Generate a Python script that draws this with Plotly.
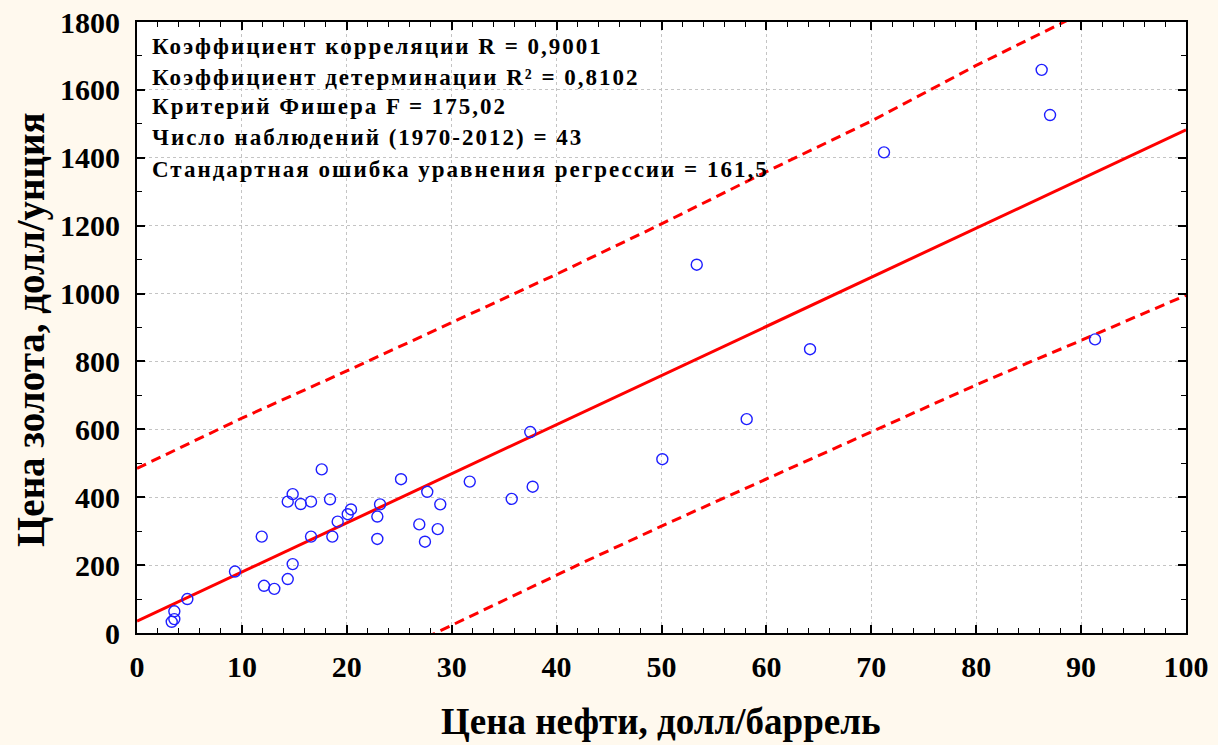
import plotly.graph_objects as go

# Observed points: oil price (USD/barrel) vs gold price (USD/oz)
oil_price = [3.31, 3.56, 3.56, 4.80, 9.34, 11.89, 12.11, 13.09, 14.37, 14.84,
             14.37, 14.84, 15.61, 16.59, 16.59, 17.61, 18.40, 18.62, 19.13, 20.09,
             20.40, 22.91, 22.91, 23.17, 25.17, 26.91, 27.45, 27.67, 28.67, 28.91,
             31.72, 35.72, 37.49, 37.72, 50.08, 53.36, 58.12, 64.16, 71.21, 86.24,
             87.04, 91.33]
gold_price = [33, 41, 64, 100, 181, 284, 139, 130, 159, 203,
              387, 409, 380, 387, 284, 482, 394, 284, 328, 350,
              364, 343, 277, 379, 453, 320, 269, 416, 306, 379,
              446, 395, 592, 431, 512, 1085, 630, 836, 1416, 1659,
              1526, 865]

# Regression line and prediction band
fit_x = [0, 100]
fit_y = [35, 1482]
upper_x = [0, 10, 20, 30, 40, 50, 60, 70, 80, 90, 100]
upper_y = [485, 633, 772, 914, 1057, 1205, 1359, 1508, 1672, 1825, 1975]
lower_x = [0, 10, 20, 28.5, 35, 42, 50, 60, 70, 80, 90, 100]
lower_y = [-418, -268, -125, 0, 95, 200, 315, 453, 593, 731, 862, 995]

x_ticks = [0, 10, 20, 30, 40, 50, 60, 70, 80, 90, 100]
y_ticks = [0, 200, 400, 600, 800, 1000, 1200, 1400, 1600, 1800]

stats_lines = [
    "Коэффициент корреляции R = 0,9001",
    "Коэффициент детерминации R² = 0,8102",
    "Критерий Фишера F = 175,02",
    "Число наблюдений (1970-2012) = 43",
    "Стандартная ошибка уравнения регрессии = 161,5",
]

BG = "#FFF9EE"
SERIF = "Liberation Serif"

fig = go.Figure()
fig.add_trace(go.Scatter(x=upper_x, y=upper_y, mode="lines",
                         line=dict(color="#FF0000", width=3, dash="10px,6px"),
                         hoverinfo="skip", showlegend=False))
fig.add_trace(go.Scatter(x=lower_x, y=lower_y, mode="lines",
                         line=dict(color="#FF0000", width=3, dash="10px,6px"),
                         hoverinfo="skip", showlegend=False))
fig.add_trace(go.Scatter(x=fit_x, y=fit_y, mode="lines",
                         line=dict(color="#FF0000", width=3),
                         hoverinfo="skip", showlegend=False))
fig.add_trace(go.Scatter(x=oil_price, y=gold_price, mode="markers",
                         marker=dict(symbol="circle-open", size=11,
                                     color="#1E1EFF", line=dict(width=1.4)),
                         showlegend=False, cliponaxis=False))

W, H = 1218, 745
L, R, T, B = 137, 32, 22, 112
pw, ph = W - L - R, H - T - B

axis_common = dict(
    showline=True, linecolor="black", linewidth=2, mirror="allticks",
    ticks="inside", ticklen=8, tickwidth=1.5, tickcolor="black",
    showgrid=True, gridcolor="#C4C4C4", gridwidth=1, griddash="3px,3px",
    zeroline=False, automargin=False,
    tickfont=dict(family=SERIF, size=30, color="black", weight="bold"),
    minor=dict(ticks="inside", ticklen=5, tickwidth=1.2, tickcolor="black", showgrid=False),
)

fig.update_xaxes(range=[0, 100], tickvals=x_ticks, ticktext=[str(v) for v in x_ticks],
                 minor_dtick=2, ticklabelstandoff=6, **axis_common)
fig.update_yaxes(range=[0, 1800], tickvals=y_ticks, ticktext=[str(v) for v in y_ticks],
                 minor_dtick=100, ticklabelstandoff=9, **axis_common)

# Axis titles as annotations for exact placement
fig.add_annotation(text="Цена нефти, долл/баррель", xref="paper", yref="paper",
                   x=(660 - L) / pw, y=(H - B - 721) / ph, xanchor="center", yanchor="middle",
                   showarrow=False, font=dict(family=SERIF, size=37, color="black", weight="bold"))
fig.add_annotation(text="Цена золота, долл/унция", xref="paper", yref="paper",
                   x=(31 - L) / pw, y=(H - B - 330) / ph, xanchor="center", yanchor="middle",
                   textangle=-90, showarrow=False,
                   font=dict(family=SERIF, size=39, color="black", weight="bold"))

line_centers = [46, 77, 107, 137, 170]
for txt, cy in zip(stats_lines, line_centers):
    fig.add_annotation(text='<span style="letter-spacing:2px">' + txt + '</span>',
                       xref="paper", yref="paper",
                       x=(150 - L) / pw, y=(H - B - cy) / ph, xanchor="left", yanchor="middle",
                       showarrow=False,
                       font=dict(family=SERIF, size=23, color="black", weight="bold"))

fig.update_layout(
    width=W, height=H,
    margin=dict(l=L, r=R, t=T, b=B, pad=0, autoexpand=False),
    paper_bgcolor=BG, plot_bgcolor="white",
    showlegend=False,
)

fig.write_html("out.html", config={"displayModeBar": False},
               post_script="document.body.style.margin='0';document.body.style.background='" + BG + "';document.body.style.overflow='hidden';")
